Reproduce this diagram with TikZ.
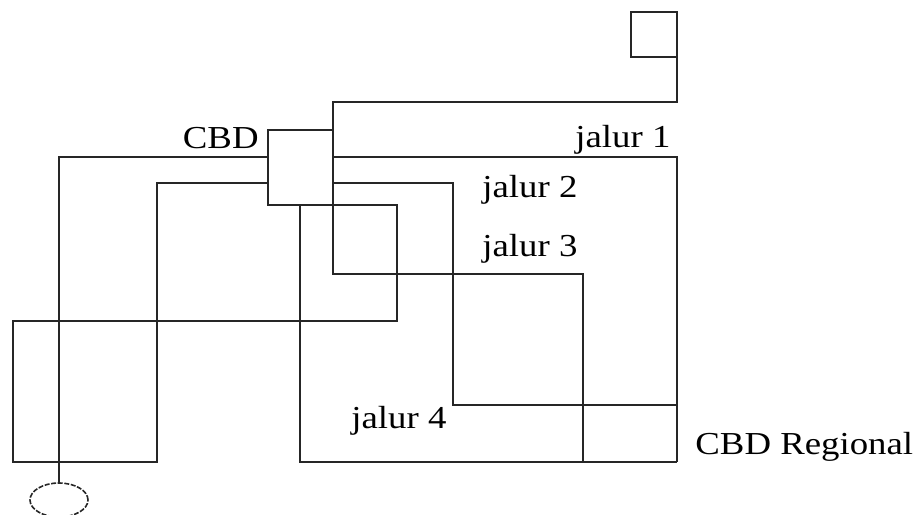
\documentclass[tikz,border=0pt]{standalone}
\usepackage{fontspec}
\setmainfont[FakeStretch=1.15]{Liberation Serif}
\usepackage{tikz}
\usetikzlibrary{shapes.geometric}

\begin{document}
\begin{tikzpicture}[
    x=0.5pt, y=-0.5pt,
    route/.style={line width=1pt, draw=black!85},
    box/.style={draw=black!85, line width=1pt, inner sep=0pt, outer sep=0pt},
    lbl/.style={inner sep=0pt, font=\fontsize{16pt}{18pt}\selectfont},
  ]
    \useasboundingbox (0,0) rectangle (919,514);

    % centres and destinations
    \node[box, minimum width=32.5pt, minimum height=37.5pt] (cbd) at (300.5,167.5) {};
    \node[box, minimum width=23pt, minimum height=22.5pt] (sq) at (654,34.5) {};
    \node[box, ellipse, line width=0.8pt, dash pattern=on 2.5pt off 0.8pt,
          minimum width=29pt, minimum height=17pt] (ell) at (59,500) {};
    \coordinate (reg) at (677,462);

    % jalur 1 - 4
    \draw[route] (cbd.north east) ++(0,27) -| (reg);
    \draw[route] (cbd.north east) ++(0,53) -| (453,405) -- (reg |- 0,405);
    \draw[route] (sq.south east) -- ++(0,45) -| (333,274) -| (583,462);
    \draw[route] (cbd.south west) ++(32,0) -- (300,462) -- (reg);

    % routes to the west
    \draw[route] (cbd.north west) ++(0,27) -| (ell.north);
    \draw[route] (cbd.north west) ++(0,53) -| (157,462) -| (13,321) -| (397,205) -- (cbd.south east);

    \node[lbl, anchor=base east] (lcbd) at (259,148) {CBD};
    \node[lbl, anchor=base west] (l1) at (575,147) {jalur 1};
    \node[lbl, anchor=base west] (l2) at (482,197) {jalur 2};
    \node[lbl, anchor=base west] (l3) at (482,256) {jalur 3};
    \node[lbl, anchor=base west] (l4) at (351,428) {jalur 4};
    \node[lbl, anchor=base west] (lreg) at (695,454) {CBD Regional};
\end{tikzpicture}
\end{document}
